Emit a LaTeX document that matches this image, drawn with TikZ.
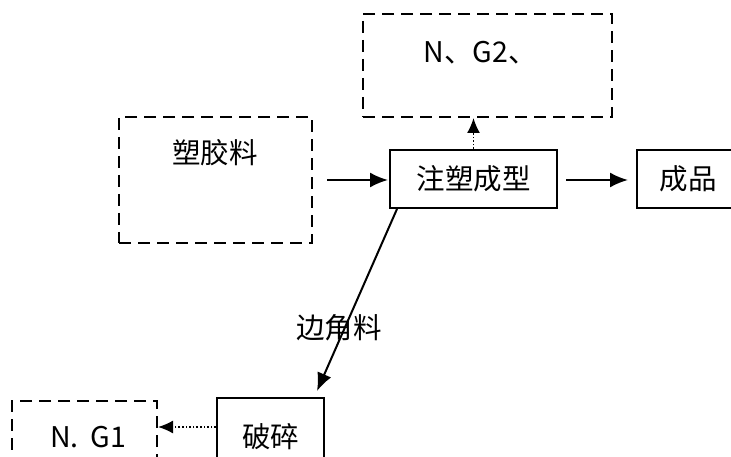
\documentclass[tikz,border=0pt]{standalone}
\usepackage{fontspec}
\setmainfont{Noto Sans CJK SC}
\usetikzlibrary{arrows.meta}
\begin{document}
\begin{tikzpicture}[x=1pt,y=-1pt,
  solidbox/.style={draw, line width=2pt, inner sep=0pt},
  dbox/.style={draw, line width=2pt, dash pattern=on 12pt off 7pt, inner sep=0pt},
  lbl/.style={font=\fontsize{28.5}{32}\selectfont, inner sep=0pt},
  arr/.style={line width=2pt, -{Latex[length=18pt,width=15pt]}},
  darr/.style={line width=1.6pt, dotted, -{Latex[length=15pt,width=13pt]}}]
\clip (0,0) rectangle (731,457);
\useasboundingbox (0,0) rectangle (731,457);
% boxes
\node[dbox, minimum width=249pt, minimum height=103pt] (gas2) at (487.5,65.5) {};
\node[lbl] (gas2t) at (480,53) {N、G2、};
\node[dbox, minimum width=193pt, minimum height=126pt] (raw) at (215.5,180) {};
\node[lbl] (rawt) at (215,153) {塑胶料};
\node[solidbox, minimum width=167pt, minimum height=58pt, lbl] (mold) at (473.5,179) {注塑成型};
\node[solidbox, minimum width=102pt, minimum height=58pt, lbl] (prod) at (688,179) {成品};
\node[solidbox, minimum width=107pt, minimum height=78pt, lbl] (crush) at (270.5,437) {破碎};
\node[dbox, minimum width=145pt, minimum height=72pt] (g1) at (84.5,437) {};
\node[lbl] (g1t) at (88,437) {N.\hspace{12pt}G1};
% connectors
\draw[arr, shorten <=14pt, shorten >=1pt] (raw.east |- 0,180) -- (mold.west |- 0,180);
\draw[arr, shorten <=8pt, shorten >=8pt] (mold.east |- 0,180) -- (prod.west |- 0,180);
\draw[darr] (mold.north) -- (mold.north |- gas2.south);
\draw[arr] ([xshift=8pt]mold.south west) -- ([xshift=-8pt,yshift=6pt]crush.north east);
\node[lbl] (edge) at (339,328) {边角料};
\coordinate (cw) at ([yshift=10pt]crush.west);
\draw[darr] (cw) -- (g1.east |- cw);
\end{tikzpicture}
\end{document}
